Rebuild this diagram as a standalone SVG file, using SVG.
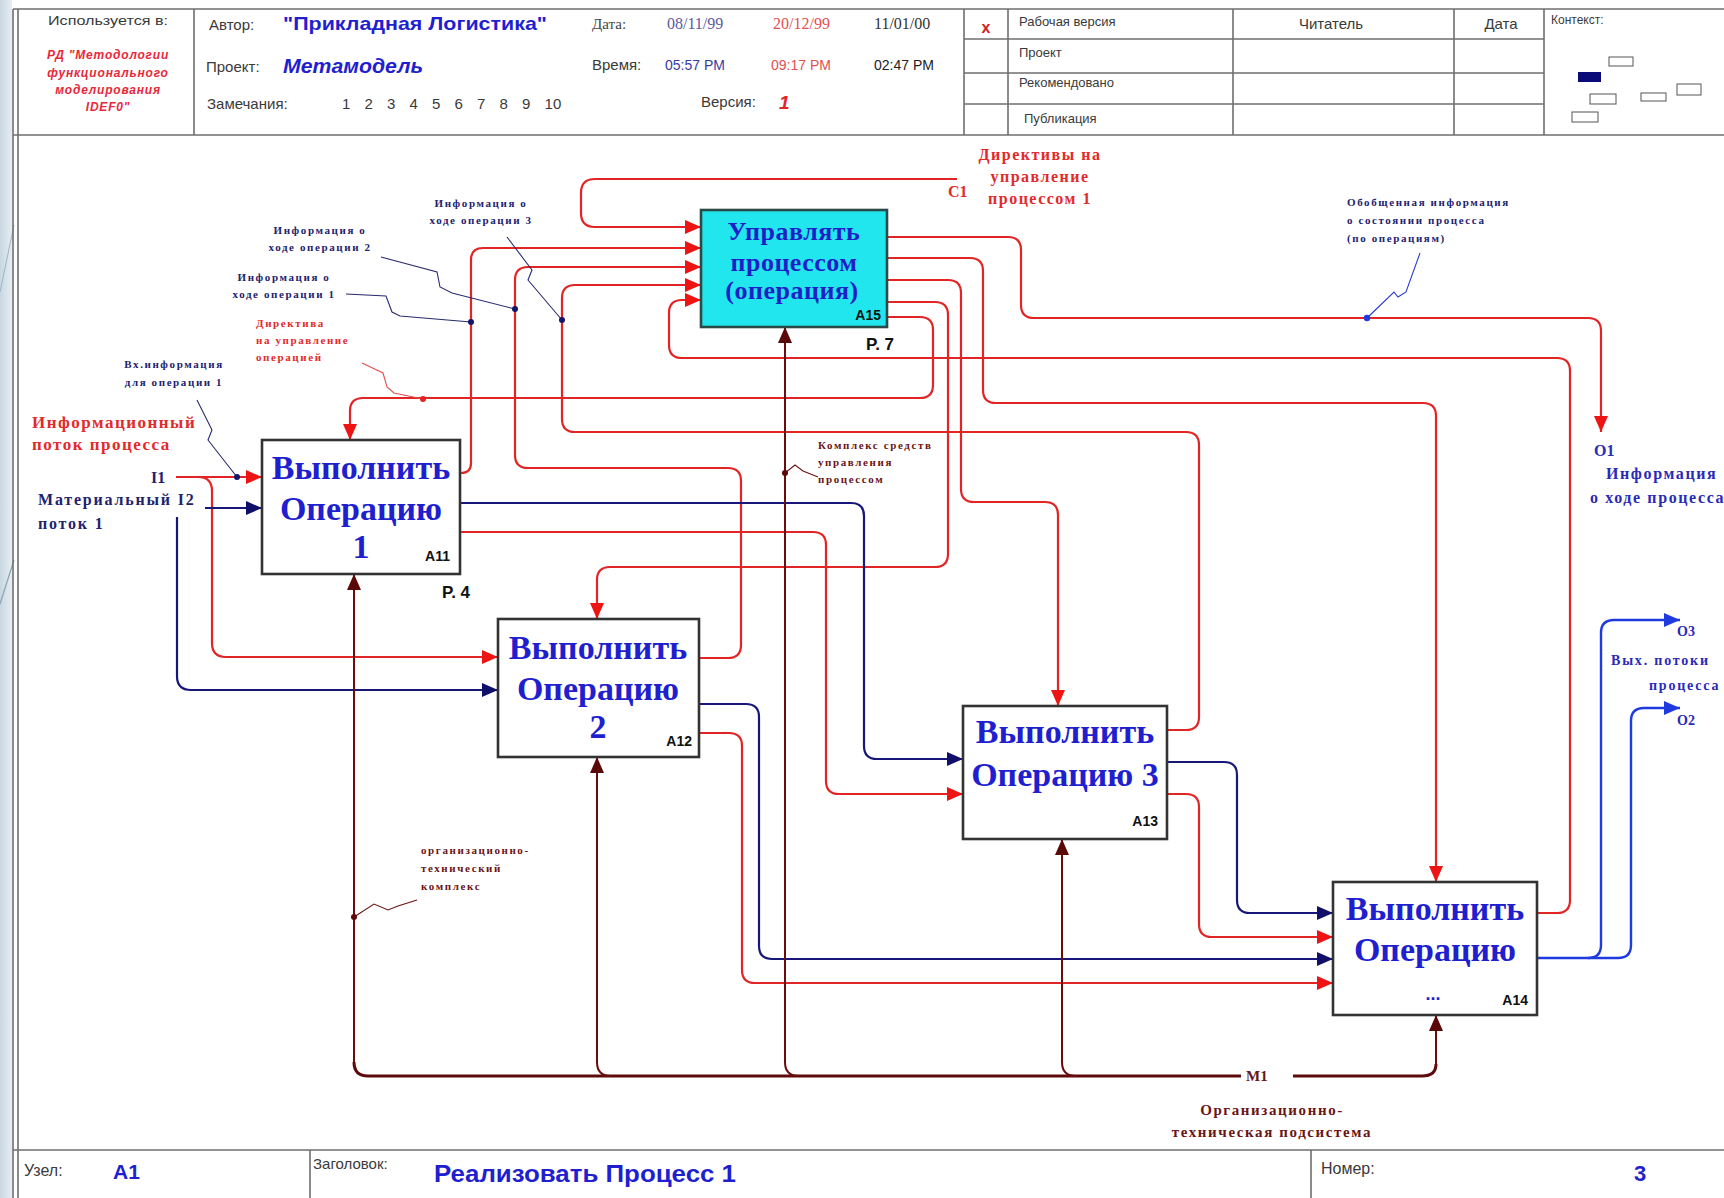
<svg xmlns="http://www.w3.org/2000/svg" width="1724" height="1198" viewBox="0 0 1724 1198">
<style>
.sans{font-family:"Liberation Sans",Arial,sans-serif}
.serif{font-family:"Liberation Serif","Times New Roman",serif}
.frame{stroke:#6e6e6e;stroke-width:1.6;fill:none}
.hl{font-family:"Liberation Sans",Arial,sans-serif;fill:#3a3a3a}
.box{fill:#ffffff;stroke:#333333;stroke-width:2.6}
.box15{fill:#22e6ee;stroke:#2a4a48;stroke-width:2.6}
.btxt{font-family:"Liberation Serif","Times New Roman",serif;font-weight:bold;font-size:34px;fill:#1f1fd0;text-anchor:middle}
.ctxt{font-family:"Liberation Serif","Times New Roman",serif;font-weight:bold;font-size:26px;fill:#1f1fc8;text-anchor:middle;letter-spacing:0.5px}
.nid{font-family:"Liberation Sans",Arial,sans-serif;font-weight:bold;font-size:14px;fill:#111;text-anchor:end}
.pg{font-family:"Liberation Sans",Arial,sans-serif;font-weight:bold;font-size:17px;fill:#111}
.r{fill:none;stroke:#e22424;stroke-width:2.2}
.n{fill:none;stroke:#17177a;stroke-width:2.2}
.m{fill:none;stroke:#6a0c0c;stroke-width:2}
.mt{fill:none;stroke:#5e0a0a;stroke-width:3}
.b{fill:none;stroke:#1e3ae0;stroke-width:2.4}
.lead{fill:none;stroke-width:1.1}
.ann{font-family:"Liberation Serif","Times New Roman",serif;font-weight:bold;font-size:11px;letter-spacing:1.6px}
.lbl{font-family:"Liberation Serif","Times New Roman",serif;font-weight:bold}
.red{fill:#e22a2a}
.navy{fill:#22226e}
.mar{fill:#6a1414}
.blu{fill:#2a2ab8}
</style>
<defs>
<linearGradient id="side" x1="0" y1="0" x2="1" y2="0">
<stop offset="0" stop-color="#c9d7e0"/><stop offset="1" stop-color="#e6eef2"/>
</linearGradient>
<marker id="ar" viewBox="0 0 16 14" refX="16" refY="7" markerWidth="16" markerHeight="14" markerUnits="userSpaceOnUse" orient="auto"><path d="M0,0L16,7L0,14z" fill="#ee1414"/></marker>
<marker id="an" viewBox="0 0 16 14" refX="16" refY="7" markerWidth="16" markerHeight="14" markerUnits="userSpaceOnUse" orient="auto"><path d="M0,0L16,7L0,14z" fill="#10106a"/></marker>
<marker id="am" viewBox="0 0 16 14" refX="16" refY="7" markerWidth="16" markerHeight="14" markerUnits="userSpaceOnUse" orient="auto"><path d="M0,0L16,7L0,14z" fill="#5a0808"/></marker>
<marker id="ab" viewBox="0 0 16 14" refX="16" refY="7" markerWidth="16" markerHeight="14" markerUnits="userSpaceOnUse" orient="auto"><path d="M0,0L16,7L0,14z" fill="#1e3ae0"/></marker>
</defs>

<rect x="0" y="0" width="1724" height="1198" fill="#ffffff"/>
<rect x="0" y="0" width="12" height="1198" fill="url(#side)"/>
<line x1="14" y1="225" x2="0" y2="292" stroke="#9fb4c2" stroke-width="1"/>
<line x1="14" y1="560" x2="0" y2="604" stroke="#8aa2b2" stroke-width="1.2"/>

<g id="frame">
<line class="frame" x1="13" y1="9" x2="13" y2="1198"/>
<line class="frame" x1="18" y1="9" x2="18" y2="1198"/>
<line class="frame" x1="13" y1="9" x2="1724" y2="9"/>
<line class="frame" x1="13" y1="135" x2="1724" y2="135" stroke-width="2.2"/>
<line class="frame" x1="194" y1="9" x2="194" y2="135"/>
<line class="frame" x1="964" y1="9" x2="964" y2="135"/>
<line class="frame" x1="1008" y1="9" x2="1008" y2="135"/>
<line class="frame" x1="1233" y1="9" x2="1233" y2="135"/>
<line class="frame" x1="1454" y1="9" x2="1454" y2="135"/>
<line class="frame" x1="1544" y1="9" x2="1544" y2="135" stroke="#333"/>
<line class="frame" x1="964" y1="39" x2="1544" y2="39"/>
<line class="frame" x1="964" y1="73" x2="1544" y2="73"/>
<line class="frame" x1="964" y1="104" x2="1544" y2="104"/>
<line class="frame" x1="13" y1="1150" x2="1724" y2="1150"/>
<line class="frame" x1="310" y1="1150" x2="310" y2="1198"/>
<line class="frame" x1="1311" y1="1150" x2="1311" y2="1198"/>
</g>

<g id="header">
<text class="hl" x="108" y="25" font-size="13" text-anchor="middle" textLength="120" lengthAdjust="spacingAndGlyphs">Используется в:</text>
<g font-family="Liberation Sans, Arial, sans-serif" font-weight="bold" font-style="italic" font-size="12" fill="#e8283a" text-anchor="middle" letter-spacing="0.8">
<text x="108" y="59">РД "Методологии</text>
<text x="108" y="77">функционального</text>
<text x="108" y="94">моделирования</text>
<text x="108" y="111">IDEF0"</text>
</g>
<text class="hl" x="209" y="30" font-size="15">Автор:</text>
<text class="sans" x="283" y="30" font-size="19" font-weight="bold" fill="#1f1fd0" textLength="264" lengthAdjust="spacingAndGlyphs">"Прикладная Логистика"</text>
<text class="hl" x="206" y="72" font-size="15">Проект:</text>
<text class="sans" x="283" y="73" font-size="20" font-weight="bold" font-style="italic" fill="#1f1fd0" textLength="140" lengthAdjust="spacingAndGlyphs">Метамодель</text>
<text class="hl" x="207" y="109" font-size="15">Замечания:</text>
<text class="hl" x="342" y="109" font-size="15" word-spacing="10">1 2 3 4 5 6 7 8 9 10</text>
<text class="serif" x="592" y="29" font-size="15" fill="#444">Дата:</text>
<text class="serif" x="667" y="29" font-size="16" fill="#5a5aa0">08/11/99</text>
<text class="serif" x="773" y="29" font-size="16" fill="#e25050">20/12/99</text>
<text class="serif" x="874" y="29" font-size="16" fill="#333">11/01/00</text>
<text class="hl" x="592" y="70" font-size="15">Время:</text>
<text class="sans" x="665" y="70" font-size="14" fill="#3a3aa0">05:57 PM</text>
<text class="sans" x="771" y="70" font-size="14" fill="#e25050">09:17 PM</text>
<text class="sans" x="874" y="70" font-size="14" fill="#222">02:47 PM</text>
<text class="hl" x="701" y="107" font-size="15">Версия:</text>
<text class="sans" x="779" y="109" font-size="19" font-weight="bold" font-style="italic" fill="#e22424">1</text>
<text class="sans" x="986" y="33" font-size="16" font-weight="bold" fill="#d42020" text-anchor="middle">x</text>
<text class="hl" x="1019" y="26" font-size="13">Рабочая версия</text>
<text class="hl" x="1019" y="57" font-size="13">Проект</text>
<text class="hl" x="1019" y="87" font-size="13">Рекомендовано</text>
<text class="hl" x="1024" y="123" font-size="13">Публикация</text>
<text class="hl" x="1331" y="29" font-size="15" text-anchor="middle">Читатель</text>
<text class="hl" x="1501" y="29" font-size="15" text-anchor="middle">Дата</text>
<text class="hl" x="1551" y="24" font-size="12">Контекст:</text>
<g fill="none" stroke="#555" stroke-width="1">
<rect x="1609" y="57" width="24" height="9"/>
<rect x="1590" y="94" width="26" height="10"/>
<rect x="1641" y="93" width="25" height="8"/>
<rect x="1677" y="84" width="24" height="11"/>
<rect x="1572" y="112" width="26" height="10"/>
</g>
<rect x="1578" y="72" width="23" height="10" fill="#0a0a78"/>
</g>

<g id="footer">
<text class="hl" x="24" y="1176" font-size="16">Узел:</text>
<text class="sans" x="113" y="1179" font-size="21" font-weight="bold" fill="#1f1fd0">A1</text>
<text class="hl" x="313" y="1169" font-size="15">Заголовок:</text>
<text class="sans" x="434" y="1182" font-size="23" font-weight="bold" fill="#1f1fd0" textLength="302" lengthAdjust="spacingAndGlyphs">Реализовать Процесс 1</text>
<text class="hl" x="1321" y="1174" font-size="16">Номер:</text>
<text class="sans" x="1640" y="1181" font-size="22" font-weight="bold" fill="#1f1fd0" text-anchor="middle">3</text>
</g>

<g id="connectors">
<path class="r" d="M957,179 H595 Q581,179 581,193 V213 Q581,227 595,227 H701" marker-end="url(#ar)"/>
<path class="r" d="M460,473 H461 Q471,473 471,463 V260 Q471,248 483,248 H701" marker-end="url(#ar)"/>
<path class="r" d="M699,658 H728 Q741,658 741,645 V481 Q741,468 728,468 H528 Q515,468 515,455 V280 Q515,267 528,267 H701" marker-end="url(#ar)"/>
<path class="r" d="M1167,730 H1186 Q1199,730 1199,717 V445 Q1199,432 1186,432 H575 Q562,432 562,419 V298 Q562,285 575,285 H701" marker-end="url(#ar)"/>
<path class="r" d="M1537,913 H1557 Q1570,913 1570,900 V371 Q1570,358 1557,358 H682 Q669,358 669,345 V313 Q669,300 682,300 H701" marker-end="url(#ar)"/>
<path class="r" d="M887,237 H1008 Q1021,237 1021,250 V305 Q1021,318 1034,318 H1588 Q1601,318 1601,331 V432" marker-end="url(#ar)"/>
<path class="r" d="M887,258 H970 Q983,258 983,271 V390 Q983,403 996,403 H1423 Q1436,403 1436,416 V882" marker-end="url(#ar)"/>
<path class="r" d="M887,280 H948 Q961,280 961,293 V489 Q961,502 974,502 H1045 Q1058,502 1058,515 V706" marker-end="url(#ar)"/>
<path class="r" d="M887,302 H935 Q948,302 948,315 V554 Q948,567 935,567 H610 Q597,567 597,580 V619" marker-end="url(#ar)"/>
<path class="r" d="M887,317 H920 Q933,317 933,330 V385 Q933,398 920,398 H363 Q350,398 350,411 V440" marker-end="url(#ar)"/>
<path class="n" d="M460,503 H851 Q864,503 864,516 V746 Q864,759 877,759 H963" marker-end="url(#an)"/>
<path class="r" d="M460,532 H813 Q826,532 826,545 V781 Q826,794 839,794 H963" marker-end="url(#ar)"/>
<path class="n" d="M699,704 H746 Q759,704 759,717 V946 Q759,959 772,959 H1333" marker-end="url(#an)"/>
<path class="r" d="M699,733 H729 Q742,733 742,746 V970 Q742,983 755,983 H1333" marker-end="url(#ar)"/>
<path class="n" d="M1167,762 H1224 Q1237,762 1237,775 V900 Q1237,913 1250,913 H1333" marker-end="url(#an)"/>
<path class="r" d="M1167,794 H1186 Q1199,794 1199,807 V924 Q1199,937 1212,937 H1333" marker-end="url(#ar)"/>
<path class="b" d="M1537,958 H1588 Q1601,958 1601,945 V633 Q1601,620 1614,620 H1680" marker-end="url(#ab)"/>
<path class="b" d="M1588,958 H1618 Q1631,958 1631,945 V721 Q1631,708 1644,708 H1680" marker-end="url(#ab)"/>
<path class="r" d="M176,477 H262" marker-end="url(#ar)"/>
<path class="r" d="M198,477 Q212,477 212,491 V643 Q212,657 226,657 H498" marker-end="url(#ar)"/>
<path class="n" d="M205,508 H262" marker-end="url(#an)"/>
<path class="n" d="M177,517 V676 Q177,690 191,690 H498" marker-end="url(#an)"/>
<path class="mt" d="M1241,1076 H368 Q354,1076 354,1062"/>
<path class="m" d="M354,1064 V574" marker-end="url(#am)"/>
<path class="m" d="M611,1076 Q597,1076 597,1062 V757" marker-end="url(#am)"/>
<path class="m" d="M799,1076 Q785,1076 785,1062 V327" marker-end="url(#am)"/>
<path class="m" d="M1076,1076 Q1062,1076 1062,1062 V839" marker-end="url(#am)"/>
<path class="mt" d="M1293,1076 H1422 Q1436,1076 1436,1064"/>
<path class="m" d="M1436,1066 V1015" marker-end="url(#am)"/>
<path class="lead" stroke="#2a2a70" d="M197,400 L212,430 L208,440 L237,477"/>
<path class="lead" stroke="#2a2a70" d="M346,294 L386,296 L392,312 L400,316 L471,322"/>
<path class="lead" stroke="#2a2a70" d="M381,257 L437,272 L440,287 L452,293 L515,309"/>
<path class="lead" stroke="#2a2a70" d="M507,237 L532,270 L528,280 L562,320"/>
<path class="lead" stroke="#e25050" d="M362,363 L383,373 L387,387 L394,393 L423,399"/>
<path class="lead" stroke="#6a1414" d="M785,473 L795,465 L803,471 L818,477"/>
<path class="lead" stroke="#6a1414" d="M354,917 L374,904 L388,910 L398,906 L417,900"/>
<path class="lead" stroke="#2a3ad0" d="M1367,318 L1394,292 L1398,297 L1406,292 L1420,253"/>
<circle cx="237" cy="477" r="3" fill="#14146a"/>
<circle cx="471" cy="322" r="3" fill="#14146a"/>
<circle cx="515" cy="309" r="3" fill="#14146a"/>
<circle cx="562" cy="320" r="3" fill="#14146a"/>
<circle cx="423" cy="399" r="3" fill="#e22424"/>
<circle cx="785" cy="473" r="3" fill="#5a0808"/>
<circle cx="354" cy="917" r="3" fill="#5a0808"/>
<circle cx="1367" cy="318" r="3.2" fill="#1e3ae0"/>
</g>

<g id="A15">
<rect class="box15" x="701" y="210" width="186" height="117"/>
<text class="ctxt" x="794" y="240">Управлять</text>
<text class="ctxt" x="794" y="271">процессом</text>
<text class="ctxt" x="792" y="299">(операция)</text>
<text class="nid" x="881" y="320">A15</text>
<text class="pg" x="866" y="350">P. 7</text>
</g>
<g id="A11">
<rect class="box" x="262" y="440" width="198" height="134"/>
<text class="btxt" x="361" y="479">Выполнить</text>
<text class="btxt" x="361" y="520">Операцию</text>
<text class="btxt" x="361" y="558">1</text>
<text class="nid" x="450" y="561">A11</text>
<text class="pg" x="442" y="598">P. 4</text>
</g>
<g id="A12">
<rect class="box" x="498" y="619" width="201" height="138"/>
<text class="btxt" x="598" y="659">Выполнить</text>
<text class="btxt" x="598" y="700">Операцию</text>
<text class="btxt" x="598" y="738">2</text>
<text class="nid" x="692" y="746">A12</text>
</g>
<g id="A13">
<rect class="box" x="963" y="706" width="204" height="133"/>
<text class="btxt" x="1065" y="743">Выполнить</text>
<text class="btxt" x="1065" y="786">Операцию 3</text>
<text class="nid" x="1158" y="826">A13</text>
</g>
<g id="A14">
<rect class="box" x="1333" y="882" width="204" height="133"/>
<text class="btxt" x="1435" y="920">Выполнить</text>
<text class="btxt" x="1435" y="961">Операцию</text>
<text class="sans" x="1433" y="1000" font-size="18" font-weight="bold" fill="#1f1fd0" text-anchor="middle">...</text>
<text class="nid" x="1528" y="1005">A14</text>
</g>

<g id="labels">
<text class="lbl red" x="32" y="428" font-size="17" letter-spacing="1.5">Информационный</text>
<text class="lbl red" x="32" y="450" font-size="17" letter-spacing="1.5">поток процесса</text>
<text class="lbl navy" x="151" y="483" font-size="16">I1</text>
<text class="lbl navy" x="38" y="505" font-size="16" letter-spacing="1.8">Материальный I2</text>
<text class="lbl navy" x="38" y="529" font-size="16" letter-spacing="1.8">поток 1</text>
<text class="ann navy" x="174" y="368" text-anchor="middle">Вх.информация</text>
<text class="ann navy" x="174" y="386" text-anchor="middle">для операции 1</text>
<text class="ann red" x="256" y="327">Директива</text>
<text class="ann red" x="256" y="344">на управление</text>
<text class="ann red" x="256" y="361">операцией</text>
<text class="ann navy" x="284" y="281" text-anchor="middle">Информация о</text>
<text class="ann navy" x="284" y="298" text-anchor="middle">ходе операции 1</text>
<text class="ann navy" x="320" y="234" text-anchor="middle">Информация о</text>
<text class="ann navy" x="320" y="251" text-anchor="middle">ходе операции 2</text>
<text class="ann navy" x="481" y="207" text-anchor="middle">Информация о</text>
<text class="ann navy" x="481" y="224" text-anchor="middle">ходе операции 3</text>
<text class="lbl red" x="1040" y="160" font-size="16" letter-spacing="1.5" text-anchor="middle">Директивы на</text>
<text class="lbl red" x="1040" y="182" font-size="16" letter-spacing="1.5" text-anchor="middle">управление</text>
<text class="lbl red" x="1040" y="204" font-size="16" letter-spacing="1.5" text-anchor="middle">процессом 1</text>
<text class="lbl red" x="948" y="197" font-size="16">C1</text>
<text class="ann mar" x="818" y="449">Комплекс средств</text>
<text class="ann mar" x="818" y="466">управления</text>
<text class="ann mar" x="818" y="483">процессом</text>
<text class="ann mar" x="421" y="854">организационно-</text>
<text class="ann mar" x="421" y="872">технический</text>
<text class="ann mar" x="421" y="890">комплекс</text>
<text class="lbl mar" x="1246" y="1081" font-size="15">M1</text>
<text class="lbl mar" x="1272" y="1115" font-size="15" letter-spacing="1.6" text-anchor="middle">Организационно-</text>
<text class="lbl mar" x="1272" y="1137" font-size="15" letter-spacing="1.6" text-anchor="middle">техническая подсистема</text>
<text class="ann navy" x="1347" y="206" font-size="10.5" letter-spacing="1.8">Обобщенная информация</text>
<text class="ann navy" x="1347" y="224" font-size="10.5" letter-spacing="1.8">о состоянии процесса</text>
<text class="ann navy" x="1347" y="242" font-size="10.5" letter-spacing="1.8">(по операциям)</text>
<text class="lbl blu" x="1594" y="456" font-size="16">O1</text>
<text class="lbl blu" x="1606" y="479" font-size="16" letter-spacing="1.6">Информация</text>
<text class="lbl blu" x="1590" y="503" font-size="16" letter-spacing="1.6">о ходе процесса</text>
<text class="lbl blu" x="1677" y="636" font-size="14">O3</text>
<text class="lbl blu" x="1611" y="665" font-size="14" letter-spacing="1.8">Вых. потоки</text>
<text class="lbl blu" x="1649" y="690" font-size="14" letter-spacing="1.8">процесса</text>
<text class="lbl blu" x="1677" y="725" font-size="14">O2</text>
</g>
</svg>
